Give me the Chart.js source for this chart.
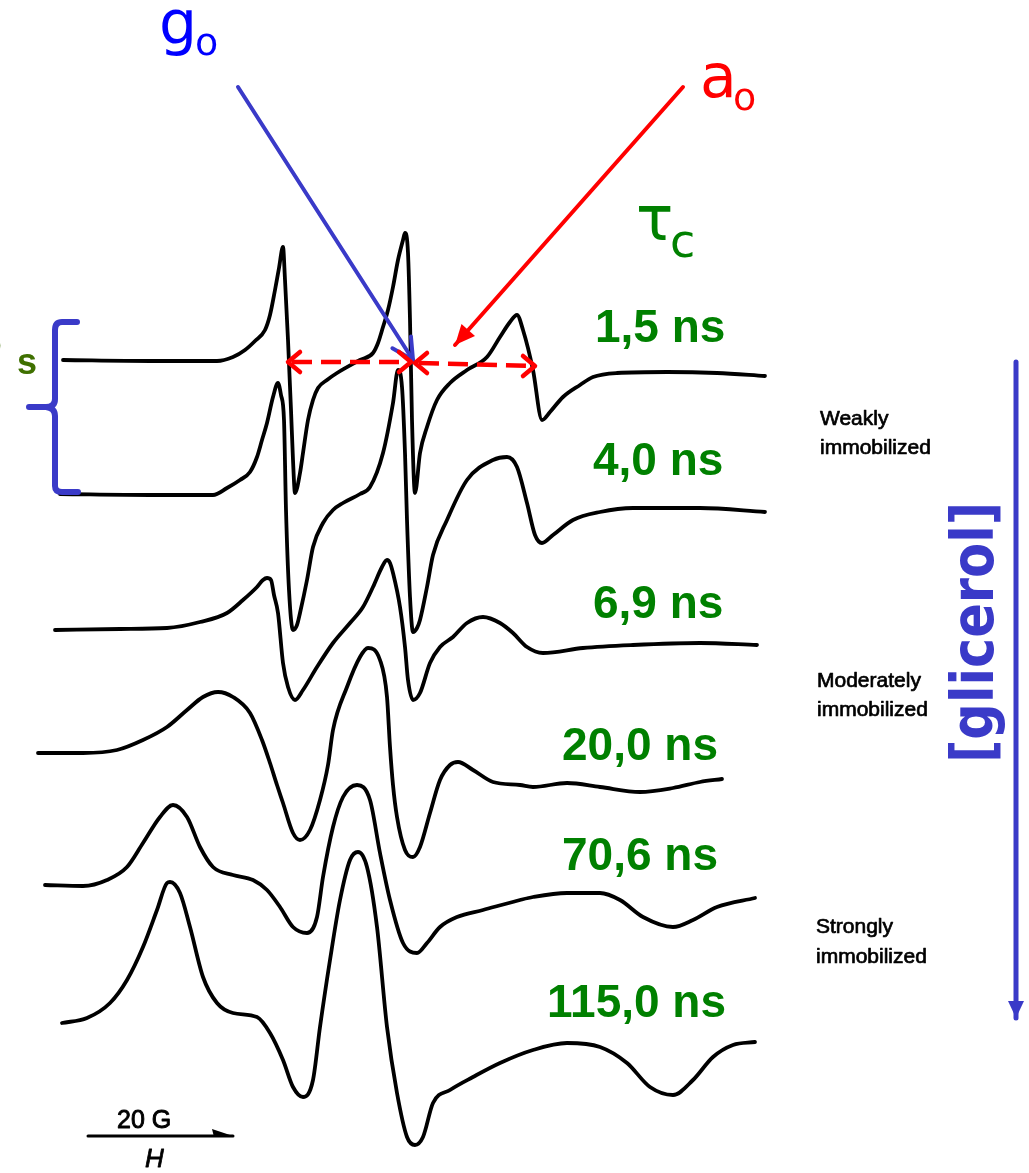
<!DOCTYPE html>
<html lang="es">
<head>
<meta charset="utf-8">
<title>Espectros EPR y tiempo de correlación</title>
<script src="https://cdn.jsdelivr.net/npm/chart.js@4.4.1/dist/chart.umd.min.js"></script>
<style>
  html, body { margin: 0; padding: 0; background: #fff; }
  canvas { display: block; }
</style>
</head>
<body>
<canvas id="grafico" width="1029" height="1173"></canvas>
<script>
// Tiempos de correlación de cada espectro
const tiempos = ['1,5 ns', '4,0 ns', '6,9 ns', '20,0 ns', '70,6 ns', '115,0 ns'];
const movilidad = [['Weakly', 'immobilized'], ['Moderately', 'immobilized'], ['Strongly', 'immobilized']];

// Espectro 1 (1,5 ns): campo H y señal, en unidades de la figura
const campo1 = [63, 150, 217, 233, 245, 255, 265, 270, 275, 279, 283, 285, 288, 291, 293, 295, 300, 303, 308, 313, 318, 327, 337, 360, 373, 378, 383, 388, 393, 398, 403, 405, 408, 410, 412, 415, 420, 427, 437, 450, 467, 487, 500, 510, 517, 523, 533, 542, 550, 563, 580, 593, 617, 667, 717, 765];
const senal1 = [360, 361, 361, 357, 350, 341, 330, 315, 290, 268, 247, 280, 340, 410, 460, 493, 473, 453, 420, 400, 388, 380, 373, 360, 353, 343, 327, 310, 287, 260, 240, 233, 253, 320, 420, 493, 453, 427, 400, 383, 370, 357, 337, 322, 315, 330, 370, 420, 412, 397, 385, 377, 373, 372, 373, 376];

// Espectro 2 (4,0 ns)
const campo2 = [60, 150, 213, 227, 240, 250, 257, 262, 267, 273, 278, 281, 284, 286, 289, 293, 297, 300, 307, 313, 323, 333, 343, 360, 370, 383, 393, 398, 402, 405, 407, 410, 413, 417, 420, 427, 433, 447, 467, 493, 507, 517, 527, 535, 542, 553, 573, 600, 633, 700, 765];
const senal2 = [494, 495, 495, 488, 480, 472, 457, 440, 423, 397, 383, 395, 420, 510, 590, 630, 625, 613, 580, 547, 523, 510, 503, 494, 487, 453, 403, 370, 387, 453, 520, 597, 632, 628, 620, 587, 555, 520, 480, 460, 457, 467, 503, 535, 543, 535, 520, 512, 508, 508, 512];

// Espectro 3 (6,9 ns)
const campo3 = [55, 120, 167, 200, 227, 243, 257, 263, 267, 271, 274, 278, 283, 288, 295, 303, 317, 333, 350, 363, 373, 382, 387, 390, 393, 400, 405, 408, 413, 420, 430, 440, 453, 467, 483, 500, 513, 527, 543, 583, 633, 700, 757];
const senal3 = [630, 629, 628, 622, 613, 600, 587, 580, 578, 580, 595, 613, 663, 687, 700, 690, 667, 643, 623, 607, 587, 567, 560, 563, 573, 607, 647, 680, 700, 693, 663, 647, 637, 623, 617, 623, 633, 647, 653, 648, 645, 643, 645];

// Espectro 4 (20,0 ns)
const campo4 = [38, 83, 117, 143, 167, 187, 203, 218, 233, 250, 262, 270, 277, 283, 293, 300, 310, 320, 328, 333, 347, 360, 368, 380, 387, 390, 393, 397, 405, 413, 420, 430, 440, 450, 458, 473, 493, 520, 533, 567, 600, 640, 673, 700, 722];
const senal4 = [753, 753, 750, 740, 727, 710, 697, 692, 697, 713, 740, 763, 785, 803, 833, 840, 830, 800, 765, 730, 687, 657, 648, 660, 697, 747, 785, 817, 850, 857, 847, 813, 780, 765, 762, 770, 782, 785, 787, 783, 787, 792, 788, 782, 779];

// Espectro 5 (70,6 ns)
const campo5 = [45, 83, 107, 127, 143, 160, 173, 187, 200, 213, 233, 253, 267, 280, 293, 307, 317, 323, 333, 343, 357, 370, 380, 390, 403, 417, 427, 440, 457, 483, 520, 533, 567, 600, 620, 643, 673, 693, 717, 755];
const senal5 = [885, 886, 880, 867, 843, 817, 805, 817, 847, 867, 875, 880, 890, 907, 927, 933, 917, 877, 827, 797, 785, 800, 853, 900, 943, 953, 943, 927, 917, 910, 900, 897, 893, 893, 900, 917, 927, 920, 907, 898];

// Espectro 6 (115,0 ns)
const campo6 = [62, 87, 110, 127, 143, 157, 167, 170, 180, 190, 203, 217, 233, 257, 270, 283, 293, 303, 313, 320, 330, 340, 350, 358, 367, 377, 387, 397, 407, 415, 423, 433, 450, 473, 500, 533, 567, 600, 627, 650, 673, 693, 713, 733, 755];
const senal6 = [1023, 1018, 1003, 980, 947, 910, 883, 882, 893, 927, 977, 1003, 1013, 1017, 1033, 1060, 1087, 1097, 1080, 1027, 960, 900, 860, 852, 867, 927, 1027, 1093, 1137, 1145, 1137, 1103, 1090, 1077, 1063, 1050, 1043, 1047, 1063, 1087, 1095, 1080, 1057, 1045, 1042];

const campos = [campo1, campo2, campo3, campo4, campo5, campo6];
const senales = [senal1, senal2, senal3, senal4, senal5, senal6];

// Posición de los textos (solo maquetación)
const posTiempos = [[595, 342], [593, 475], [593, 618], [562, 760], [562, 870], [547, 1017]];
const posMovilidad = [[820, 425, 454], [817, 687, 716], [816, 933, 963]];

// Dibujar una línea con punta de flecha
function flecha(ctx, x1, y1, x2, y2, largo, ancho, rellena) {
    const ang = Math.atan2(y2 - y1, x2 - x1);
    ctx.beginPath();
    ctx.moveTo(x1, y1);
    ctx.lineTo(x2, y2);
    ctx.stroke();
    const ax = x2 - largo * Math.cos(ang), ay = y2 - largo * Math.sin(ang);
    const px = -Math.sin(ang) * ancho, py = Math.cos(ang) * ancho;
    ctx.beginPath();
    ctx.moveTo(ax + px, ay + py);
    ctx.lineTo(x2, y2);
    ctx.lineTo(ax - px, ay - py);
    if (rellena) { ctx.closePath(); ctx.fill(); } else { ctx.stroke(); }
}

// Punta abierta sola (para las flechas discontinuas)
function punta(ctx, x, y, dir, largo, ancho) {
    ctx.beginPath();
    ctx.moveTo(x - dir * largo, y - ancho);
    ctx.lineTo(x, y);
    ctx.lineTo(x - dir * largo, y + ancho);
    ctx.stroke();
}

// Texto con un trazo fino para engrosarlo un poco
function textoGrueso(ctx, t, x, y, grosor) {
    ctx.fillText(t, x, y);
    ctx.lineWidth = grosor;
    ctx.strokeStyle = ctx.fillStyle;
    ctx.strokeText(t, x, y);
}

const anotaciones = {
    id: 'anotaciones',
    afterDatasetsDraw(chart) {
        const ctx = chart.ctx;
        const X = v => chart.scales.x.getPixelForValue(v);
        const Y = v => chart.scales.y.getPixelForValue(v);
        ctx.save();
        ctx.lineCap = 'round';
        ctx.lineJoin = 'round';
        ctx.textBaseline = 'alphabetic';

        // g0 y su flecha
        ctx.fillStyle = '#0000ff';
        ctx.font = '60px "DejaVu Sans"';
        ctx.fillText('g', X(159), Y(43));
        ctx.font = '38px "DejaVu Sans"';
        ctx.fillText('o', X(195), Y(55));
        ctx.strokeStyle = '#3a3ac8';
        ctx.lineWidth = 4;
        flecha(ctx, X(238), Y(87), X(413), Y(360), 21, 11, false);

        // a0 y su flecha
        ctx.fillStyle = '#ff0000';
        ctx.font = '60px "DejaVu Sans"';
        ctx.fillText('a', X(700), Y(97));
        ctx.font = '38px "DejaVu Sans"';
        ctx.fillText('o', X(733), Y(110));
        ctx.strokeStyle = '#ff0000';
        ctx.lineWidth = 4;
        flecha(ctx, X(683), Y(87), X(455), Y(345), 20, 9, true);

        // flechas discontinuas (constante hiperfina)
        ctx.lineWidth = 4.5;
        ctx.lineCap = 'butt';
        ctx.setLineDash([20, 9]);
        ctx.beginPath();
        ctx.moveTo(X(292), Y(362)); ctx.lineTo(X(408), Y(362));
        ctx.moveTo(X(419), Y(363)); ctx.lineTo(X(531), Y(366));
        ctx.stroke();
        ctx.setLineDash([]);
        ctx.lineCap = 'round';
        punta(ctx, X(288), Y(362), -1, 12, 10);
        punta(ctx, X(411), Y(362), 1, 12, 10);
        punta(ctx, X(415), Y(363), -1, 12, 10);
        punta(ctx, X(535), Y(366), 1, 12, 10);

        // tau c
        ctx.fillStyle = 'rgb(0,128,0)';
        ctx.font = '62px "DejaVu Sans"';
        ctx.fillText('τ', X(636), Y(240));
        ctx.font = '46px "DejaVu Sans"';
        ctx.fillText('c', X(670), Y(257));

        // tiempos de correlación
        ctx.font = 'bold 46px "Liberation Sans"';
        tiempos.forEach((t, i) => {
            ctx.fillText(t, X(posTiempos[i][0]), Y(posTiempos[i][1]));
        });

        // grado de inmovilización
        ctx.fillStyle = '#000';
        ctx.font = '21px "Liberation Sans"';
        movilidad.forEach((m, i) => {
            const p = posMovilidad[i];
            textoGrueso(ctx, m[0], X(p[0]), Y(p[1]), 0.7);
            textoGrueso(ctx, m[1], X(p[0]), Y(p[2]), 0.7);
        });

        // [glicerol] vertical y flecha azul
        ctx.fillStyle = '#3a3ac8';
        ctx.save();
        ctx.translate(X(993), Y(763));
        ctx.rotate(-Math.PI / 2);
        ctx.font = 'bold 58px "DejaVu Sans"';
        ctx.fillText('[glicerol]', 0, 0, 261);
        ctx.restore();
        ctx.strokeStyle = '#3a3ac8';
        ctx.lineWidth = 5;
        flecha(ctx, X(1016), Y(362), X(1016), Y(1018), 17, 8, true);

        // llave a la izquierda
        ctx.lineWidth = 6;
        ctx.beginPath();
        ctx.moveTo(X(77), Y(322));
        ctx.lineTo(X(62), Y(322));
        ctx.quadraticCurveTo(X(55), Y(322), X(55), Y(330));
        ctx.lineTo(X(55), Y(399));
        ctx.quadraticCurveTo(X(55), Y(407), X(46), Y(407));
        ctx.lineTo(X(29), Y(407));
        ctx.moveTo(X(46), Y(407));
        ctx.quadraticCurveTo(X(55), Y(408), X(55), Y(416));
        ctx.lineTo(X(55), Y(486));
        ctx.quadraticCurveTo(X(55), Y(492), X(62), Y(492));
        ctx.lineTo(X(78), Y(492));
        ctx.stroke();

        // texto verde cortado a la izquierda
        ctx.fillStyle = '#3f7000';
        ctx.font = 'bold 36px "Liberation Sans"';
        ctx.fillText('s', X(17), Y(374));
        ctx.font = 'bold 22px "Liberation Sans"';
        ctx.fillText('0', X(-11), Y(353));

        // barra de escala 20 G
        ctx.strokeStyle = '#000';
        ctx.fillStyle = '#000';
        ctx.lineWidth = 3;
        ctx.beginPath();
        ctx.moveTo(X(88), Y(1136)); ctx.lineTo(X(233), Y(1136));
        ctx.stroke();
        ctx.beginPath();
        ctx.moveTo(X(212), Y(1129)); ctx.lineTo(X(233), Y(1136)); ctx.lineTo(X(214), Y(1137));
        ctx.closePath(); ctx.fill();
        ctx.font = '25px "Liberation Sans"';
        textoGrueso(ctx, '20 G', X(117), Y(1128), 0.9);
        ctx.font = 'italic 26px "Liberation Sans"';
        textoGrueso(ctx, 'H', X(145), Y(1167), 0.8);

        ctx.restore();
    }
};

// Crear el gráfico con los seis espectros apilados
const ctx = document.getElementById('grafico').getContext('2d');
new Chart(ctx, {
    type: 'scatter',
    data: {
        datasets: campos.map((c, i) => ({
            label: tiempos[i],
            data: c.map((x, j) => ({ x: x, y: senales[i][j] })),
            showLine: true,
            borderColor: '#000',
            borderWidth: 3.8,
            pointRadius: 0,
            cubicInterpolationMode: 'monotone',
            borderCapStyle: 'round',
            borderJoinStyle: 'round'
        }))
    },
    options: {
        responsive: false,
        animation: false,
        layout: { padding: 0 },
        plugins: {
            legend: { display: false },
            tooltip: { enabled: false }
        },
        scales: {
            x: { type: 'linear', min: 0, max: 1029, display: false },
            y: { type: 'linear', min: 0, max: 1173, reverse: true, display: false }
        }
    },
    plugins: [anotaciones]
});
</script>
</body>
</html>
